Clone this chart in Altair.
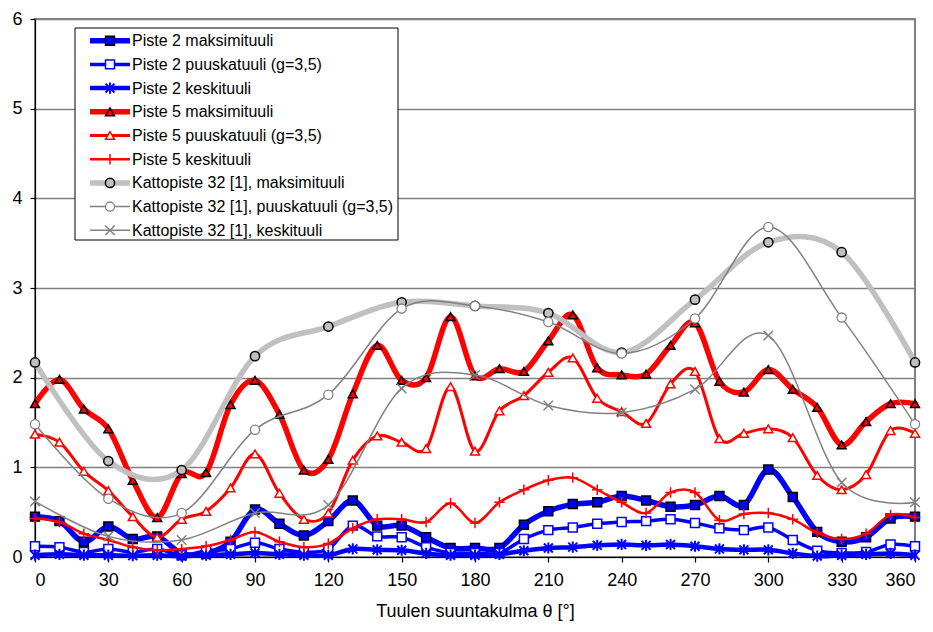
import altair as alt
import pandas as pd

# ---- data ----
angles10 = list(range(0, 361, 10))
angles30 = list(range(0, 361, 30))

p2_max = [0.45, 0.40, 0.17, 0.34, 0.20, 0.23, 0.04, 0.04, 0.17, 0.53, 0.37, 0.24, 0.40,
          0.63, 0.35, 0.35, 0.22, 0.10, 0.10, 0.10, 0.36, 0.51, 0.59, 0.61, 0.68, 0.63,
          0.56, 0.58, 0.68, 0.58, 0.975, 0.67, 0.28, 0.17, 0.22, 0.43, 0.45]
p2_puu = [0.12, 0.11, 0.055, 0.09, 0.055, 0.09, 0.02, 0.07, 0.09, 0.16, 0.09, 0.055, 0.09,
          0.35, 0.23, 0.22, 0.11, 0.045, 0.045, 0.045, 0.20, 0.30, 0.33, 0.37, 0.39, 0.40,
          0.42, 0.38, 0.32, 0.30, 0.33, 0.19, 0.07, 0.045, 0.055, 0.14, 0.12]
p2_kes = [0.02, 0.03, 0.02, 0.02, 0.015, 0.02, 0.01, 0.02, 0.03, 0.045, 0.03, 0.02, 0.02,
          0.09, 0.08, 0.075, 0.04, 0.02, 0.02, 0.03, 0.07, 0.10, 0.11, 0.13, 0.14, 0.13,
          0.14, 0.12, 0.09, 0.08, 0.08, 0.04, 0.01, 0.02, 0.03, 0.04, 0.02]
p5_max = [1.71, 1.98, 1.65, 1.43, 0.855, 0.44, 0.93, 0.94, 1.70, 1.97, 1.59, 0.97, 1.09,
          1.82, 2.36, 1.97, 2.00, 2.68, 2.02, 2.10, 2.07, 2.41, 2.70, 2.11, 2.03, 2.04,
          2.36, 2.61, 1.96, 1.84, 2.09, 1.87, 1.67, 1.25, 1.51, 1.71, 1.71]
p5_puu = [1.37, 1.28, 0.955, 0.74, 0.45, 0.22, 0.42, 0.51, 0.77, 1.15, 0.71, 0.42, 0.49,
          1.08, 1.35, 1.28, 1.21, 1.90, 1.18, 1.63, 1.80, 2.06, 2.22, 1.77, 1.62, 1.49,
          1.93, 2.07, 1.32, 1.38, 1.43, 1.33, 0.91, 0.75, 0.92, 1.41, 1.38]
p5_kes = [0.43, 0.39, 0.26, 0.19, 0.11, 0.075, 0.09, 0.12, 0.19, 0.28, 0.17, 0.11, 0.15,
          0.32, 0.42, 0.42, 0.39, 0.60, 0.38, 0.61, 0.75, 0.855, 0.885, 0.75, 0.61, 0.49,
          0.72, 0.72, 0.41, 0.48, 0.49, 0.42, 0.27, 0.20, 0.26, 0.47, 0.44]
k_max = [2.17, 1.07, 0.97, 2.24, 2.57, 2.84, 2.80, 2.72, 2.28, 2.87, 3.51, 3.40, 2.17]
k_puu = [1.48, 0.65, 0.49, 1.42, 1.81, 2.77, 2.80, 2.62, 2.27, 2.66, 3.68, 2.67, 1.48]
k_kes = [0.62, 0.23, 0.19, 0.49, 0.58, 1.88, 2.03, 1.69, 1.61, 1.87, 2.47, 0.83, 0.61]
y_ticks = [0, 1, 2, 3, 4, 5, 6]

series_names = [
    "Piste 2 maksimituuli",
    "Piste 2 puuskatuuli (g=3,5)",
    "Piste 2 keskituuli",
    "Piste 5 maksimituuli",
    "Piste 5 puuskatuuli (g=3,5)",
    "Piste 5 keskituuli",
    "Kattopiste 32 [1], maksimituuli",
    "Kattopiste 32 [1], puuskatuuli (g=3,5)",
    "Kattopiste 32 [1], keskituuli",
]
series_x = [angles10] * 6 + [angles30] * 3
series_y = [p2_max, p2_puu, p2_kes, p5_max, p5_puu, p5_kes, k_max, k_puu, k_kes]

# ---- styles ----
ASTER = "M-1,-1L1,1M-1,1L1,-1M0,-1.25L0,1.25"
PLUS = "M-1.1,0L1.1,0M0,-1.1L0,1.1"
XSYM = "M-1,-1L1,1M-1,1L1,-1"
BLUE, RED, LGRAY, DGRAY = "#0000FF", "#FF0000", "#C0C0C0", "#808080"

styles = [
    dict(color=BLUE, lw=5.5, shape="square", fill=BLUE, stroke="black", size=80, sw=1.5),
    dict(color=BLUE, lw=3.5, shape="square", fill="white", stroke=BLUE, size=80, sw=1.5),
    dict(color=BLUE, lw=4.5, shape=ASTER, fill=None, stroke=BLUE, size=80, sw=2),
    dict(color=RED, lw=5.5, shape="triangle-up", fill=RED, stroke="black", size=80, sw=1.5),
    dict(color=RED, lw=3, shape="triangle-up", fill="white", stroke=RED, size=80, sw=1.5),
    dict(color=RED, lw=2.5, shape=PLUS, fill=None, stroke=RED, size=90, sw=1.5),
    dict(color=LGRAY, lw=5.5, shape="circle", fill=LGRAY, stroke="black", size=85, sw=1.5),
    dict(color=DGRAY, lw=1.5, shape="circle", fill="white", stroke=DGRAY, size=85, sw=1.3),
    dict(color=DGRAY, lw=1.5, shape=XSYM, fill=None, stroke=DGRAY, size=90, sw=1.5),
]

FONT = "Liberation Sans"

x_enc = alt.X("a:Q", scale=alt.Scale(domain=[0, 360], nice=False),
              axis=alt.Axis(values=angles30, format="d", title="Tuulen suuntakulma θ [°]"))
y_enc = alt.Y("v:Q", scale=alt.Scale(domain=[0, 6], nice=False),
              axis=alt.Axis(values=y_ticks, format="d", title=None))


def point_mark(st):
    if st["fill"] is None:
        return alt.MarkDef(type="point", shape=st["shape"], filled=False, stroke=st["stroke"],
                           strokeWidth=st["sw"], size=st["size"], opacity=1, strokeOpacity=1)
    return alt.MarkDef(type="point", shape=st["shape"], filled=True, fill=st["fill"],
                       fillOpacity=1, stroke=st["stroke"], strokeWidth=st["sw"],
                       size=st["size"], opacity=1, strokeOpacity=1)


layers = []
for i, (name, xs, ys, st) in enumerate(zip(series_names, series_x, series_y, styles)):
    df = pd.DataFrame({"a": xs, "v": ys})
    base = alt.Chart(df)
    line = base.mark_line(color=st["color"], strokeWidth=st["lw"], interpolate="cardinal",
                          tension=0, strokeJoin="round", strokeCap="round").encode(x=x_enc, y=y_enc)
    pts = base.mark_point().encode(x=x_enc, y=y_enc)
    pts.mark = point_mark(st)
    layers += [line, pts]

# ---- legend (drawn inside the plot) ----
LX0, LX1, LY0, LY1 = 40, 363, 9, 221
ROW0, ROWH = 21.7, 23.7
box = alt.Chart(pd.DataFrame({"k": [0]})).mark_rect(
    fill="white", stroke="black", strokeWidth=1).encode(
    x=alt.value(LX0), x2=alt.value(LX1), y=alt.value(LY0), y2=alt.value(LY1))
legend_layers = [box]
for i, (name, st) in enumerate(zip(series_names, styles)):
    ld = pd.DataFrame({"label": [name]})
    yy = ROW0 + i * ROWH
    lb = alt.Chart(ld)
    legend_layers.append(lb.mark_rule(color=st["color"], strokeWidth=st["lw"]).encode(
        x=alt.value(55), x2=alt.value(95), y=alt.value(yy)))
    lp = lb.mark_point().encode(x=alt.value(75), y=alt.value(yy))
    lp.mark = point_mark(st)
    legend_layers.append(lp)
    legend_layers.append(lb.mark_text(align="left", baseline="middle", font=FONT,
                                      fontSize=16, color="black").encode(
        x=alt.value(97), y=alt.value(yy + 0.5), text="label:N"))

chart = alt.layer(*layers, *legend_layers).properties(
    width=880, height=538,
    padding={"left": 35, "top": 19, "right": 18, "bottom": 75},
    autosize="none",
).configure_view(
    stroke=DGRAY, strokeWidth=2
).configure_axis(
    labelFont=FONT, titleFont=FONT, labelFontSize=18, titleFontSize=18,
    labelColor="black", titleColor="black", titleFontWeight="normal",
    domainColor="black", domainWidth=1.2, tickColor="black", tickSize=5, tickWidth=1.2,
).configure_axisX(
    grid=False, labelPadding=9, titlePadding=13,
).configure_axisY(
    grid=True, gridColor=DGRAY, gridWidth=1.5, labelPadding=8,
)

chart.save("out.html", embed_options={"renderer": "svg", "actions": False})
